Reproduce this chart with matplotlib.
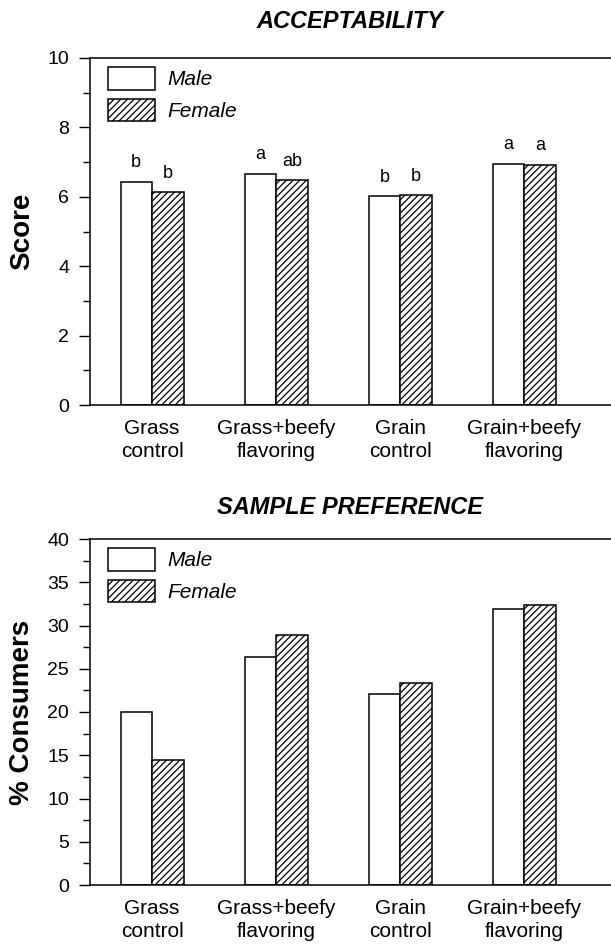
import numpy as np
import matplotlib
matplotlib.use("Agg")
import matplotlib.pyplot as plt
from matplotlib.ticker import MultipleLocator

plt.rcParams['font.family'] = ['Liberation Sans', 'DejaVu Sans']
plt.rcParams['hatch.linewidth'] = 0.9

categories = ['Grass\ncontrol', 'Grass+beefy\nflavoring', 'Grain\ncontrol', 'Grain+beefy\nflavoring']
score_male = [6.43, 6.66, 6.01, 6.95]
score_female = [6.14, 6.48, 6.05, 6.92]
letters_male = ['b', 'a', 'b', 'a']
letters_female = ['b', 'ab', 'b', 'a']
pref_male = [20.0, 26.4, 22.1, 31.9]
pref_female = [14.5, 28.9, 23.4, 32.4]

W, H = 611, 944
fig = plt.figure(figsize=(W / 100, H / 100), dpi=100)


def px_axes(left, right, top, bottom):
    return fig.add_axes([left / W, 1 - bottom / H, (right - left) / W, (bottom - top) / H])


def draw_panel(ax, male, female, ymax, major, minor, ylabel):
    x = np.arange(len(categories))
    w = 0.254
    ax.bar(x - w / 2, male, w, color='white', edgecolor='black', linewidth=1.1, label='Male')
    ax.bar(x + w / 2, female, w, color='white', edgecolor='black', linewidth=1.1,
           hatch='/////', label='Female')
    ax.set_xlim(-0.5, 3.7)
    ax.set_ylim(0, ymax)
    ax.yaxis.set_major_locator(MultipleLocator(major))
    ax.yaxis.set_minor_locator(MultipleLocator(minor))
    ax.tick_params(axis='y', which='major', direction='out', length=8, width=1, labelsize=14, pad=7)
    ax.tick_params(axis='y', which='minor', direction='out', length=5, width=1)
    ax.set_xticks(x)
    ax.set_xticklabels(categories, fontsize=15, linespacing=1.25)
    ax.tick_params(axis='x', length=0, pad=10)
    ax.spines['right'].set_visible(False)
    for s in ['left', 'top', 'bottom']:
        ax.spines[s].set_linewidth(1.1)
    ax.set_ylabel(ylabel, fontsize=20, fontweight='bold', va='center')
    ax.yaxis.set_label_coords(-68 / 521, 0.5)
    ax.legend(loc='upper left', bbox_to_anchor=(18 / 521, 1 - 9 / 347), frameon=False,
              borderpad=0, borderaxespad=0, handlelength=2.26, handleheight=1.3,
              labelspacing=0.43, handletextpad=0.58, prop={'size': 15, 'style': 'italic'})
    return x, w


ax1 = px_axes(90, 611, 58, 405)
x, w = draw_panel(ax1, score_male, score_female, 10, 2, 1, 'Score')
for i in range(len(categories)):
    ax1.text(x[i] - w / 2, score_male[i] + 0.3, letters_male[i], ha='center', va='bottom', fontsize=13)
    ax1.text(x[i] + w / 2, score_female[i] + 0.3, letters_female[i], ha='center', va='bottom', fontsize=13)

ax2 = px_axes(90, 611, 539, 885)
draw_panel(ax2, pref_male, pref_female, 40, 5, 2.5, '% Consumers')

fig.text(350 / W, 1 - 22 / H, 'ACCEPTABILITY', ha='center', va='center',
         fontsize=17, fontweight='bold', style='italic')
fig.text(350 / W, 1 - 507 / H, 'SAMPLE PREFERENCE', ha='center', va='center',
         fontsize=17, fontweight='bold', style='italic')

fig.savefig('out.png', dpi=100)
